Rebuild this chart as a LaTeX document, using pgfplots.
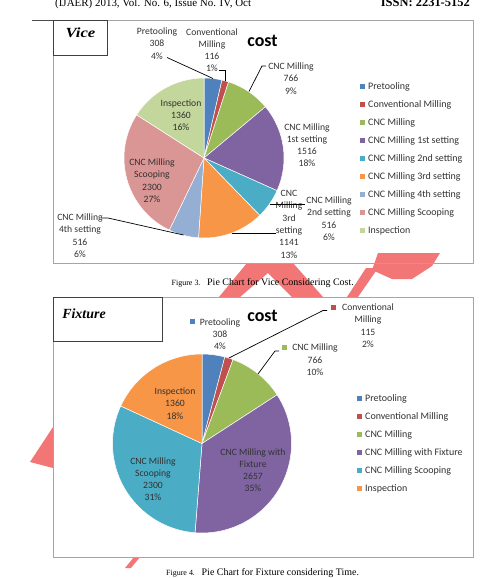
\documentclass[border=0pt]{standalone}
\usepackage{pgfplots}
\pgfplotsset{compat=1.18}
\usepackage{pgfplotstable}
\usepackage{fontspec}
\setmainfont{Liberation Serif}
\newfontfamily\calibri{Carlito}

% Office 2007 palette
\definecolor{vice0}{HTML}{4F81BD}
\definecolor{vice1}{HTML}{C0504D}
\definecolor{vice2}{HTML}{9BBB59}
\definecolor{vice3}{HTML}{8064A2}
\definecolor{vice4}{HTML}{4BACC6}
\definecolor{vice5}{HTML}{F79646}
\definecolor{vice6}{RGB}{149,174,212}
\definecolor{vice7}{HTML}{D99694}
\definecolor{vice8}{HTML}{C3D69B}
\colorlet{fix0}{vice0}
\colorlet{fix1}{vice1}
\colorlet{fix2}{vice2}
\colorlet{fix3}{vice3}
\colorlet{fix4}{vice4}
\colorlet{fix5}{vice5}
\definecolor{labelgray}{RGB}{50,50,50}
\definecolor{framegray}{RGB}{165,165,165}
\definecolor{wmred}{RGB}{243,118,118}

% cost per stage, vice
\pgfplotstableread{
value
308
116
766
1516
516
1141
516
2300
1360
}\vicedata

% cost per stage, fixture
\pgfplotstableread{
value
308
115
766
2657
2300
1360
}\fixturedata

% #1 table, #2 radius (bp), #3 colour prefix, #4 macro receiving the wedges
\newcommand\buildpie[4]{%
  \pgfplotstablegetrowsof{#1}%
  \pgfmathtruncatemacro\pielast{\pgfplotsretval-1}%
  \gdef\pietotal{0}%
  \foreach \i in {0,...,\pielast}{%
    \pgfplotstablegetelem{\i}{value}\of{#1}%
    \pgfmathsetmacro\pietmp{\pietotal+\pgfplotsretval}%
    \global\let\pietotal\pietmp}%
  \gdef\piecum{0}%
  \gdef#4{}%
  \foreach \i in {0,...,\pielast}{%
    \pgfplotstablegetelem{\i}{value}\of{#1}%
    \pgfmathsetmacro\pa{90-360*(\piecum/\pietotal)}%
    \pgfmathsetmacro\pc{\piecum+\pgfplotsretval}%
    \pgfmathsetmacro\pb{90-360*(\pc/\pietotal)}%
    \xdef#4{\unexpanded\expandafter{#4}\noexpand\fill[#3\i,draw=white,line width=0.5bp]
      (axis cs:0,0) -- ++(\pa:#2bp) arc[start angle=\pa,end angle=\pb,radius=#2bp] -- cycle;}%
    \global\let\piecum\pc}%
}
\buildpie{\vicedata}{80}{vice}{\vicewedges}
\buildpie{\fixturedata}{89.5}{fix}{\fixturewedges}

% dl=<number of lines>; placed at the baseline of the first line
\tikzset{
  dl/.style={font=\calibri\fontsize{9.7}{12.3}\selectfont, align=center, anchor=base,
    inner sep=0pt, text=labelgray, yshift={-(#1-1)*12.3bp}},
  lead/.style={draw=black, line width=0.7bp},
  legtext/.style={font=\calibri\fontsize{10}{12}\selectfont, anchor=base west,
    inner sep=0pt, text=labelgray},
}

\begin{document}
\begin{tikzpicture}
\useasboundingbox (0,0) rectangle (488bp,-578bp);

\begin{scope}[x=1bp,y=-1bp]
  % watermark behind the page
  \fill[wmred] (247,263) -- (293,263) -- (323,297) -- (292,297) -- (268,273)
    -- (240,297) -- (219,297) -- cycle;
  \fill[wmred] (347,297) -- (358,297) -- (378,268) -- (366,268) -- cycle;
  \fill[wmred] (378,253) -- (440,253) -- (432,266) -- (412,279) -- (392,279)
    -- (372,270) -- cycle;
  \fill[wmred] (53,427) -- (53,468) -- (30,462) -- cycle;
  \fill[wmred] (125,568) -- (131,568) -- (140,557) -- (134,557) -- cycle;

  % running head
  \node[anchor=base west, inner sep=0pt, font=\fontsize{11}{13}\selectfont]
    at (55,6) {(IJAER) 2013, Vol. No. 6, Issue No. IV, Oct};
  \node[anchor=base east, inner sep=0pt, font=\bfseries\fontsize{12.5}{14}\selectfont]
    at (470,6) {ISSN: 2231-5152};
  \draw[black!70, line width=1.2bp] (32,20.5) -- (473,20.5);

  % frames
  \draw[framegray, line width=1bp] (53,20.5) rectangle (473,263);
  \draw[black!75, line width=1bp] (53,20.5) rectangle (107,55.5);
  \fill[white] (53,297.5) rectangle (473,557.5);
  \draw[framegray, line width=1bp] (53,297.5) rectangle (473,557.5);
  \draw[black!75, line width=1bp] (53,297.5) rectangle (162,341.5);
  \node[anchor=base, inner sep=0pt] at (80.5,37.5)
    {\scalebox{1.2}[1]{\bfseries\itshape\fontsize{14}{16}\selectfont Vice}};
  \node[anchor=base, inner sep=0pt, font=\bfseries\itshape\fontsize{14}{16}\selectfont]
    at (84,318.5) {Fixture};

  % captions
  \node[anchor=base west, inner sep=0pt, font=\fontsize{8}{10}\selectfont] at (171.5,285.8) {Figure 3.};
  \node[anchor=base west, inner sep=0pt, font=\fontsize{10}{12}\selectfont] at (207,285.8)
    {Pie Chart for Vice Considering Cost.};
  \node[anchor=base west, inner sep=0pt, font=\fontsize{8}{10}\selectfont] at (166,575) {Figure 4.};
  \node[anchor=base west, inner sep=0pt, font=\fontsize{10}{12}\selectfont] at (201.5,575)
    {Pie Chart for Fixture considering Time.};
\end{scope}

% ---- Vice pie ----
\begin{axis}[at={(204bp,-158bp)}, anchor=center, hide axis, clip=false,
  x=1bp, y=1bp, xmin=-100, xmax=100, ymin=-100, ymax=100]
\vicewedges
\end{axis}

% ---- Fixture pie ----
\begin{axis}[at={(202bp,-443.5bp)}, anchor=center, hide axis, clip=false,
  x=1bp, y=1bp, xmin=-100, xmax=100, ymin=-100, ymax=100]
\fixturewedges
\end{axis}

\begin{scope}[x=1bp,y=-1bp]
  % titles
  \node[anchor=base, inner sep=0pt, font=\calibri\bfseries\fontsize{18}{20}\selectfont]
    at (262.5,46) {cost};
  \node[anchor=base, inner sep=0pt, font=\calibri\bfseries\fontsize{18}{20}\selectfont]
    at (262.5,321.5) {cost};

  % Vice data labels
  \node[dl=3] at (157,34.5) {Pretooling\\308\\4\%};
  \node[dl=4] at (212,35) {Conventional\\Milling\\116\\1\%};
  \node[dl=3] at (291,69.5) {CNC Milling\\766\\9\%};
  \node[dl=4] at (307,130) {CNC Milling\\1st setting\\1516\\18\%};
  \node[dl=4] at (329,203.5) {CNC Milling\\2nd setting\\516\\6\%};
  \node[dl=6] at (289,196.5) {CNC\\Milling\\3rd\\setting\\1141\\13\%};
  \node[dl=4] at (80,220.5) {CNC Milling\\4th setting\\516\\6\%};
  \node[dl=4] at (152,165.5) {CNC Milling\\Scooping\\2300\\27\%};
  \node[dl=3] at (181,106) {Inspection\\1360\\16\%};
  \draw[lead] (167,57.5) -- (213,78.5);
  \draw[lead] (219,70.5) -- (225.5,70.5) -- (225.5,80.5);
  \draw[lead] (266,66) -- (262,66) -- (249,91.5);
  \draw[lead] (269.5,204) -- (305,204);
  \draw[lead] (231.5,233) -- (276,233);
  \draw[lead] (101,218) -- (108,218) -- (183.5,235);

  % Vice legend
  \foreach \y/\t [count=\k from 0] in {86/Pretooling, 104/Conventional Milling,
      122/CNC Milling, 140/CNC Milling 1st setting, 158/CNC Milling 2nd setting,
      176/CNC Milling 3rd setting, 194/CNC Milling 4th setting,
      212/CNC Milling Scooping, 230/Inspection}{
    \fill[vice\k] (360.2,\y-2.5) rectangle (365.2,\y+2.5);
    \node[legtext] at (368,\y+3.4) {\t};
  }

  % Fixture data labels
  \node[dl=3] at (220,325) {Pretooling\\308\\4\%};
  \fill[fix0] (189.5,319.2) rectangle (194.5,324.2);
  \node[dl=4] at (368,310.5) {Conventional\\Milling\\115\\2\%};
  \fill[fix1] (330.5,304.5) rectangle (335.5,309.5);
  \node[dl=3] at (315,350.8) {CNC Milling\\766\\10\%};
  \fill[fix2] (281.8,344.8) rectangle (286.8,349.8);
  \node[dl=3] at (175,394.5) {Inspection\\1360\\18\%};
  \node[dl=4] at (253,455) {CNC Milling with\\Fixture\\2657\\35\%};
  \node[dl=4] at (153,464) {CNC Milling\\Scooping\\2300\\31\%};
  \draw[lead] (327,310.5) -- (323,310.5) -- (229,358);
  \draw[lead] (279,351) -- (275,351) -- (258,374);

  % Fixture legend
  \foreach \y/\t [count=\k from 0] in {398/Pretooling, 416/Conventional Milling,
      434/CNC Milling, 452/CNC Milling with Fixture, 470/CNC Milling Scooping,
      488/Inspection}{
    \fill[fix\k] (356.8,\y-2.5) rectangle (361.8,\y+2.5);
    \node[legtext] at (365,\y+3.4) {\t};
  }
\end{scope}
\end{tikzpicture}
\end{document}
